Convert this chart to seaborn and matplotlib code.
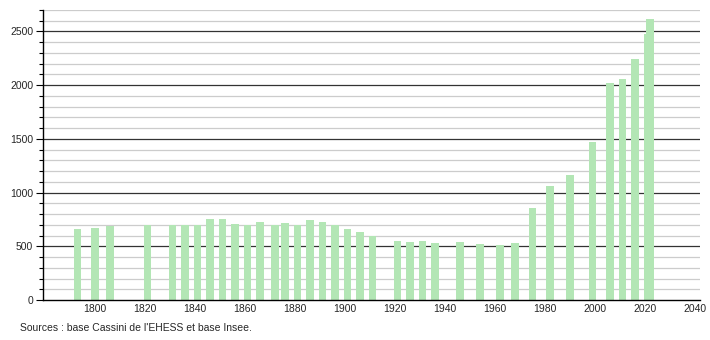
import matplotlib
matplotlib.use("Agg")
import matplotlib.pyplot as plt
from matplotlib.ticker import MultipleLocator
import seaborn as sns
import pandas as pd

years = [1793, 1800, 1806, 1821, 1831, 1836, 1841, 1846, 1851, 1856, 1861, 1866,
         1872, 1876, 1881, 1886, 1891, 1896, 1901, 1906, 1911, 1921, 1926, 1931,
         1936, 1946, 1954, 1962, 1968, 1975, 1982, 1990, 1999, 2006, 2011, 2016,
         2021, 2022]
population = [661, 673, 685, 698, 698, 698, 698, 757, 757, 710, 698, 723,
              698, 720, 701, 742, 723, 698, 657, 629, 598, 551, 542, 551,
              533, 542, 523, 514, 533, 860, 1065, 1168, 1467, 2025, 2056, 2243,
              2477, 2617]
source_text = "Sources : base Cassini de l'EHESS et base Insee."

df = pd.DataFrame({"year": years, "pop": population})

sns.set_style("white")
plt.rcParams["font.family"] = ["Liberation Sans", "DejaVu Sans"]

fig = plt.figure(figsize=(7.1, 3.4), dpi=100)
ax = fig.add_axes([43 / 710, 1 - 300 / 340, (700 - 43) / 710, 290 / 340])

sns.barplot(data=df, x="year", y="pop", native_scale=True, width=3.2,
            color="#b3e6b5", saturation=1, edgecolor="none", ax=ax, zorder=3)

ax.set_xlim(1779.2, 2042)
ax.set_ylim(0, 2700)
ax.xaxis.set_major_locator(MultipleLocator(20))
ax.yaxis.set_major_locator(MultipleLocator(500))
ax.yaxis.set_minor_locator(MultipleLocator(100))
ax.grid(False)
for v in range(100, 2701, 100):
    if v % 500 == 0:
        ax.axhline(v, color="#333333", lw=0.9, zorder=1)
    else:
        ax.axhline(v, color="#cccccc", lw=0.9, zorder=1)

ax.set_xlabel("")
ax.set_ylabel("")
for s in ["top", "right"]:
    ax.spines[s].set_visible(False)
for s in ["left", "bottom"]:
    ax.spines[s].set_color("black")
    ax.spines[s].set_linewidth(1.0)
ax.spines["left"].set_zorder(5)
ax.spines["bottom"].set_zorder(5)

ax.tick_params(axis="y", which="major", left=True, length=5, width=0.8,
               color="black", labelsize=7.5, pad=2)
ax.tick_params(axis="y", which="minor", left=True, length=3, width=0.8, color="black")
ax.tick_params(axis="x", which="both", bottom=False, length=0, labelsize=7.5, pad=3)
ax.set_xticks(range(1800, 2041, 20))
ax.set_xticklabels([str(y) for y in range(1800, 2041, 20)])

fig.text(20 / 710, 1 - 328 / 340, source_text, fontsize=7.5, ha="left", va="center")

fig.savefig("out.png", dpi=100)
